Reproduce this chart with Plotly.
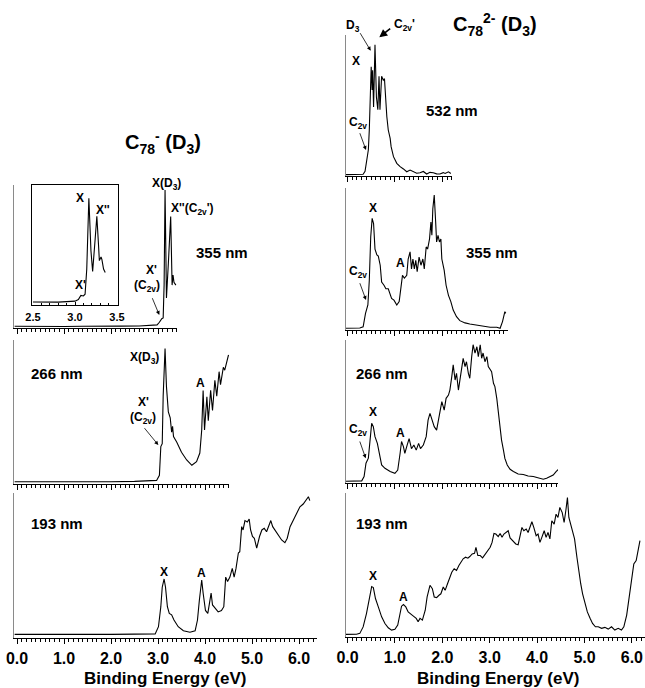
import plotly.graph_objects as go

W, H = 645, 688
FONT = "Liberation Sans, Arial, Helvetica, sans-serif"

# ---------------- data (binding energy eV, intensity % of panel height) ----------------
L355_x = [-0.05, 0.3, 0.6, 1.0, 1.4, 1.8, 2.2, 2.6, 2.85, 2.98, 3.03, 3.06, 3.08, 3.11, 3.13, 3.15, 3.18, 3.22, 3.27, 3.30, 3.32, 3.34, 3.38]
L355_y = [1.2, 1.0, 1.3, 1.1, 1.2, 1.0, 1.3, 1.4, 1.8, 2.2, 4.0, 6.0, 6.5, 7.0, 30.0, 96.5, 21.0, 45.0, 78.0, 30.0, 37.0, 32.0, 30.0]

INS_x = [2.50, 2.60, 2.70, 2.80, 2.90, 3.00, 3.04, 3.07, 3.10, 3.12, 3.14, 3.165, 3.19, 3.21, 3.24, 3.26, 3.28, 3.29, 3.31, 3.32, 3.34, 3.36]
INS_y = [2.5, 2.3, 2.6, 2.4, 2.8, 3.2, 4.5, 8.0, 7.5, 9.0, 30.0, 89.0, 45.0, 28.0, 55.0, 74.0, 50.0, 37.0, 40.0, 38.0, 30.0, 27.0]

L266_x = [-0.05, 0.5, 1.0, 1.5, 2.0, 2.5, 2.8, 2.97, 3.03, 3.06, 3.09, 3.11, 3.15, 3.18, 3.22, 3.26, 3.29, 3.31, 3.33, 3.40, 3.50, 3.61, 3.72, 3.82, 3.89, 3.93, 3.96, 3.99, 4.04, 4.07, 4.12, 4.16, 4.21, 4.25, 4.30, 4.33, 4.39, 4.42, 4.50]
L266_y = [1.6, 1.5, 1.7, 1.5, 1.6, 1.8, 2.0, 2.5, 6.0, 26.0, 28.0, 61.0, 94.0, 67.6, 50.0, 46.0, 36.0, 40.0, 33.0, 29.0, 22.0, 16.7, 13.0, 15.5, 21.5, 37.5, 65.0, 37.5, 60.6, 44.0, 65.0, 51.0, 72.0, 61.0, 78.0, 69.0, 81.0, 79.0, 89.6]

L193_x = [-0.05, 0.5, 1.0, 1.5, 2.0, 2.5, 2.94, 3.01, 3.06, 3.09, 3.13, 3.16, 3.20, 3.24, 3.29, 3.34, 3.43, 3.54, 3.68, 3.79, 3.84, 3.88, 3.93, 3.96, 4.01, 4.06, 4.09, 4.13, 4.16, 4.21, 4.28, 4.35, 4.40, 4.44, 4.48, 4.53, 4.58, 4.62, 4.66, 4.71, 4.74, 4.78, 4.81, 4.85, 4.90, 4.94, 4.97, 5.01, 5.05, 5.10, 5.16, 5.21, 5.26, 5.31, 5.37, 5.40, 5.44, 5.49, 5.56, 5.63, 5.70, 5.75, 5.81, 5.88, 5.95, 6.02, 6.09, 6.16, 6.20, 6.23]
L193_y = [2.5, 2.4, 2.6, 2.5, 2.5, 2.7, 2.8, 7.8, 21.6, 35.0, 40.7, 35.0, 21.6, 17.0, 16.0, 12.4, 7.8, 5.0, 4.0, 5.0, 12.4, 26.0, 40.0, 31.0, 19.0, 17.0, 24.0, 31.0, 22.8, 20.5, 18.0, 19.0, 21.6, 42.0, 39.0, 42.0, 48.0, 42.0, 48.0, 58.6, 59.5, 76.8, 74.5, 81.0, 80.0, 82.0, 74.5, 70.0, 68.8, 61.9, 70.0, 74.5, 75.6, 73.3, 78.0, 81.0, 76.8, 74.5, 71.0, 67.6, 65.7, 68.8, 76.8, 81.4, 87.0, 90.5, 92.4, 96.0, 97.4, 94.7]

R532_x = [-0.04, 0.10, 0.20, 0.33, 0.37, 0.405, 0.44, 0.46, 0.475, 0.50, 0.52, 0.53, 0.55, 0.58, 0.61, 0.64, 0.665, 0.685, 0.72, 0.755, 0.78, 0.80, 0.83, 0.86, 0.90, 0.92, 0.97, 1.04, 1.11, 1.18, 1.25, 1.32, 1.39, 1.46, 1.53, 1.60, 1.67, 1.74, 1.81, 1.88, 1.95, 2.02, 2.06, 2.13, 2.18]
R532_y = [1.0, 1.0, 1.1, 1.2, 3.3, 11.5, 18.6, 32.7, 56.0, 77.5, 61.0, 75.0, 49.0, 93.0, 56.0, 47.0, 70.7, 47.0, 70.7, 68.0, 69.0, 56.0, 42.0, 32.6, 26.7, 20.8, 13.7, 9.0, 6.6, 5.0, 3.0, 4.2, 3.0, 2.0, 2.3, 3.2, 1.4, 2.6, 2.3, 1.5, 1.4, 2.4, 1.8, 3.0, 1.8]

R355_x = [-0.04, 0.10, 0.20, 0.26, 0.33, 0.38, 0.43, 0.46, 0.49, 0.52, 0.55, 0.58, 0.62, 0.65, 0.69, 0.72, 0.77, 0.81, 0.86, 0.90, 0.93, 0.98, 1.04, 1.09, 1.13, 1.16, 1.20, 1.25, 1.28, 1.32, 1.35, 1.38, 1.41, 1.44, 1.47, 1.51, 1.55, 1.59, 1.62, 1.66, 1.69, 1.73, 1.76, 1.78, 1.80, 1.83, 1.86, 1.88, 1.91, 1.94, 1.97, 1.99, 2.04, 2.08, 2.13, 2.18, 2.23, 2.30, 2.37, 2.48, 2.58, 2.73, 2.86, 3.01, 3.15, 3.22, 3.27, 3.32, 3.34]
R355_y = [1.2, 1.2, 1.3, 1.4, 2.3, 11.7, 17.6, 35.0, 65.7, 78.6, 75.0, 57.0, 52.8, 52.0, 45.6, 33.8, 31.5, 29.0, 29.0, 24.6, 22.3, 21.0, 17.6, 20.0, 29.0, 38.5, 36.6, 38.5, 50.0, 55.0, 43.0, 50.0, 43.0, 49.0, 41.0, 51.4, 45.6, 50.0, 43.0, 58.5, 57.0, 64.0, 76.0, 66.7, 85.4, 95.0, 76.0, 62.0, 66.7, 62.0, 64.0, 50.0, 42.0, 31.5, 24.4, 20.0, 14.0, 9.4, 6.6, 5.0, 4.2, 3.5, 2.8, 1.9, 1.9, 1.2, 5.9, 12.9, 11.7]

R266_x = [-0.04, 0.10, 0.20, 0.30, 0.35, 0.39, 0.44, 0.475, 0.51, 0.545, 0.58, 0.63, 0.67, 0.72, 0.79, 0.90, 1.00, 1.06, 1.11, 1.14, 1.18, 1.21, 1.26, 1.30, 1.35, 1.40, 1.45, 1.50, 1.54, 1.60, 1.66, 1.70, 1.74, 1.79, 1.83, 1.88, 1.92, 1.95, 1.99, 2.04, 2.08, 2.13, 2.16, 2.20, 2.23, 2.27, 2.30, 2.34, 2.37, 2.41, 2.44, 2.48, 2.51, 2.55, 2.58, 2.62, 2.65, 2.69, 2.73, 2.76, 2.80, 2.83, 2.86, 2.90, 2.94, 2.97, 3.01, 3.04, 3.08, 3.11, 3.15, 3.18, 3.22, 3.25, 3.29, 3.32, 3.37, 3.43, 3.50, 3.60, 3.71, 3.81, 3.92, 4.03, 4.13, 4.20, 4.27, 4.34, 4.40, 4.45]
R266_y = [1.2, 1.2, 1.3, 1.5, 4.5, 13.8, 17.4, 32.4, 41.7, 39.4, 32.4, 27.7, 20.8, 12.6, 10.3, 8.0, 6.8, 9.0, 20.8, 29.0, 25.4, 20.8, 26.6, 31.0, 24.0, 26.6, 23.0, 27.7, 24.0, 26.6, 32.4, 44.0, 48.7, 42.9, 39.4, 37.0, 44.0, 51.0, 56.9, 51.0, 59.2, 61.5, 65.0, 74.4, 82.6, 72.0, 76.7, 65.0, 72.0, 79.0, 87.2, 81.4, 84.8, 76.7, 73.2, 88.4, 96.7, 90.9, 95.3, 88.4, 96.7, 87.2, 90.9, 84.8, 88.4, 81.4, 79.0, 77.9, 69.7, 67.4, 59.0, 48.7, 39.4, 30.0, 23.0, 17.2, 12.6, 9.6, 8.0, 6.3, 6.0, 4.9, 4.5, 3.7, 2.6, 3.3, 4.5, 5.6, 8.0, 9.6]

R193_x = [-0.04, 0.10, 0.19, 0.26, 0.33, 0.40, 0.46, 0.51, 0.545, 0.59, 0.65, 0.72, 0.79, 0.86, 0.93, 1.00, 1.06, 1.11, 1.14, 1.18, 1.23, 1.28, 1.33, 1.39, 1.45, 1.49, 1.53, 1.58, 1.64, 1.68, 1.74, 1.79, 1.83, 1.88, 1.93, 1.97, 2.02, 2.06, 2.11, 2.15, 2.20, 2.25, 2.30, 2.35, 2.39, 2.44, 2.49, 2.54, 2.58, 2.63, 2.68, 2.71, 2.75, 2.80, 2.85, 2.90, 2.95, 3.01, 3.05, 3.09, 3.13, 3.18, 3.22, 3.26, 3.30, 3.34, 3.39, 3.43, 3.47, 3.51, 3.55, 3.60, 3.64, 3.68, 3.72, 3.77, 3.81, 3.85, 3.89, 3.93, 3.98, 4.02, 4.06, 4.10, 4.15, 4.19, 4.23, 4.27, 4.31, 4.36, 4.40, 4.44, 4.48, 4.53, 4.57, 4.61, 4.64, 4.67, 4.71, 4.75, 4.79, 4.84, 4.88, 4.92, 4.96, 5.01, 5.06, 5.12, 5.17, 5.23, 5.29, 5.36, 5.43, 5.50, 5.57, 5.64, 5.71, 5.78, 5.83, 5.89, 5.95, 6.00, 6.04, 6.09, 6.14, 6.17]
R193_y = [1.8, 1.8, 1.9, 2.5, 7.0, 16.3, 27.8, 35.0, 34.3, 26.7, 20.9, 14.0, 9.4, 6.4, 4.8, 5.3, 8.3, 16.3, 21.4, 22.5, 20.9, 17.4, 16.3, 14.5, 12.9, 10.6, 12.9, 11.7, 18.6, 27.8, 35.9, 33.6, 27.8, 27.4, 29.0, 30.0, 34.7, 32.4, 37.0, 40.5, 45.0, 47.4, 46.2, 49.7, 51.9, 54.3, 55.4, 54.7, 55.9, 57.7, 58.1, 62.3, 56.6, 56.6, 55.0, 57.2, 58.8, 62.3, 65.7, 71.9, 71.5, 69.7, 71.9, 69.2, 71.5, 72.6, 73.8, 68.8, 67.4, 65.7, 64.6, 64.1, 70.3, 76.1, 73.8, 75.0, 72.6, 76.1, 80.0, 76.1, 70.3, 71.5, 65.7, 69.2, 73.8, 69.2, 72.6, 68.1, 80.7, 78.4, 85.3, 83.0, 90.0, 86.4, 79.5, 88.7, 96.8, 83.0, 78.4, 73.8, 68.1, 55.4, 45.0, 37.0, 30.0, 24.3, 17.4, 12.9, 9.4, 7.1, 7.1, 6.0, 6.7, 5.5, 7.1, 4.8, 6.0, 4.8, 7.1, 15.2, 29.0, 44.0, 50.8, 53.1, 62.3, 66.9]

TICK_VALS = [0, 1, 2, 3, 4, 5, 6]
TICK_LABELS = ["0.0", "1.0", "2.0", "3.0", "4.0", "5.0", "6.0"]
INSET_VALS = [2.5, 3.0, 3.5]
INSET_TICKS = ["2.5", "3.0", "3.5"]

# ---------------- geometry helpers ----------------
def px(x):
    return x / W

def py(y):
    return 1 - y / H

L0, LS = 17.0, 47.0      # left column: pixel of 0 eV, pixels per eV
R0, RS = 347.5, 47.4     # right column

# panels: (name, x, y, column, left_px, right_px, top_px, bottom_px, show labels)
panels = [
    ("L355", L355_x, L355_y, "L", 14, 177, 185, 328, False),
    ("L266", L266_x, L266_y, "L", 14, 229, 340, 484, False),
    ("L193", L193_x, L193_y, "L", 14, 317, 493, 638, True),
    ("R532", R532_x, R532_y, "R", 345.7, 452, 35, 176, False),
    ("R355", R355_x, R355_y, "R", 345.7, 508, 188, 330, False),
    ("R266", R266_x, R266_y, "R", 345.7, 558, 340, 483, False),
    ("R193", R193_x, R193_y, "R", 345.7, 645, 493, 637, True),
]

fig = go.Figure()
layout = dict(
    width=W, height=H, margin=dict(l=0, r=0, t=0, b=0, pad=0, autoexpand=False),
    paper_bgcolor="white", plot_bgcolor="rgba(0,0,0,0)",
    showlegend=False, font=dict(family=FONT, color="black"),
)

for i, (name, xs, ys, col, lpx, rpx, tpx, bpx, lab) in enumerate(panels, start=1):
    z0, sc = (L0, LS) if col == "L" else (R0, RS)
    xr = [(lpx - z0) / sc, (rpx - z0) / sc]
    sfx = "" if i == 1 else str(i)
    fig.add_trace(go.Scatter(x=xs, y=ys, mode="lines", line=dict(color="black", width=1.1),
                             xaxis="x" + sfx, yaxis="y" + sfx, hoverinfo="skip"))
    layout["xaxis" + sfx] = dict(
        domain=[px(lpx), px(rpx)], range=xr, anchor="y" + sfx, automargin=False,
        showline=True, linecolor="black", linewidth=1, showgrid=False, zeroline=False,
        ticks="outside", ticklen=5, tickwidth=1, tickcolor="black",
        tickvals=TICK_VALS, ticktext=TICK_LABELS,
        minor=dict(ticks="outside", ticklen=3, dtick=0.1, tick0=0, tickcolor="black", tickwidth=1, showgrid=False),
        showticklabels=lab, ticklabelstandoff=1,
        tickfont=dict(family=FONT, size=16, weight="bold", color="black"),
    )
    layout["yaxis" + sfx] = dict(
        domain=[py(bpx), py(tpx)], range=[0, 100], anchor="x" + sfx, automargin=False,
        showline=True, linecolor="#8a8a8a", linewidth=1, showgrid=False, zeroline=False,
        ticks="", showticklabels=False,
    )

# inset in the left 355 nm panel
k = len(panels) + 1
fig.add_trace(go.Scatter(x=INS_x, y=INS_y, mode="lines", line=dict(color="black", width=1.1),
                         xaxis="x%d" % k, yaxis="y%d" % k, hoverinfo="skip"))
ix0, ix1 = 32, 118
isc = 84.0
layout["xaxis%d" % k] = dict(
    domain=[px(ix0), px(ix1)], range=[2.5 + (ix0 - 33) / isc, 2.5 + (ix1 - 33) / isc], anchor="y%d" % k,
    automargin=False,
    showline=True, mirror=True, linecolor="black", linewidth=1, showgrid=False, zeroline=False,
    ticks="inside", ticklen=3, tickcolor="black",
    tickvals=INSET_VALS, ticktext=INSET_TICKS,
    minor=dict(ticks="inside", ticklen=2, dtick=0.1, tick0=0, tickcolor="black", showgrid=False),
    ticklabelstandoff=2,
    tickfont=dict(family=FONT, size=11, weight="bold", color="black"),
)
layout["yaxis%d" % k] = dict(
    domain=[py(305), py(185)], range=[0, 100], anchor="x%d" % k, automargin=False,
    showline=True, mirror=True, linecolor="black", linewidth=1, showgrid=False, zeroline=False,
    ticks="", showticklabels=False,
)

fig.update_layout(**layout)

# ---------------- text annotations ----------------
def txt(x, y, s, size=12):
    fig.add_annotation(x=px(x), y=py(y), xref="paper", yref="paper", text=s, showarrow=False,
                       xanchor="center", yanchor="middle",
                       font=dict(family=FONT, size=size, weight="bold", color="black"))

def arrow(tx, ty, hx, hy, width=0.8, size=1.0):
    fig.add_annotation(x=px(hx), y=py(hy), xref="paper", yref="paper", text="",
                       showarrow=True, ax=tx - hx, ay=ty - hy, axref="pixel", ayref="pixel",
                       arrowhead=2, arrowsize=size, arrowwidth=width, arrowcolor="black")

# left column
txt(163, 142, "C<sub>78</sub><sup>-</sup> (D<sub>3</sub>)", 20)
txt(166, 184, "X(D<sub>3</sub>)")
txt(192, 209, "X''(C<sub>2v</sub>')")
txt(151, 270, "X'")
txt(147, 286, "(C<sub>2v</sub>)")
arrow(151.7, 296.7, 159.3, 315)
txt(222, 252, "355 nm", 15)
txt(80, 198, "X")
txt(103, 210, "X''")
txt(80, 285, "X'")

txt(144, 358, "X(D<sub>3</sub>)")
txt(200, 383, "A")
txt(143, 402, "X'")
txt(143, 418, "(C<sub>2v</sub>)")
arrow(143.3, 426.7, 158.3, 445)
txt(57, 373, "266 nm", 15)

txt(164, 572, "X")
txt(201, 573, "A")
txt(57, 523, "193 nm", 15)
txt(165, 678, "Binding Energy (eV)", 17)

# right column
txt(495, 25, "C<sub>78</sub><sup>2-</sup> (D<sub>3</sub>)", 20)
txt(353, 26, "D<sub>3</sub>")
txt(404, 25, "C<sub>2v</sub>'")
arrow(359.3, 31.7, 370.7, 50.7)
arrow(391.7, 27.3, 379.3, 37.3, width=1.6, size=1.0)
txt(356, 61, "X")
txt(358, 123, "C<sub>2v</sub>")
arrow(359.3, 131.7, 366, 150)
txt(452, 110, "532 nm", 15)

txt(373, 208, "X")
txt(400, 263, "A")
txt(358, 272, "C<sub>2v</sub>")
arrow(359.3, 281.7, 366, 300)
txt(492, 252, "355 nm", 15)

txt(373, 412, "X")
txt(358, 430, "C<sub>2v</sub>")
arrow(359.3, 440, 365.7, 458.3)
txt(401, 433, "A")
txt(382, 373, "266 nm", 15)

txt(373, 576, "X")
txt(403, 597, "A")
txt(382, 523, "193 nm", 15)
txt(498, 678, "Binding Energy (eV)", 17)

fig.write_html("out.html", config={"responsive": False, "displayModeBar": False},
               post_script="document.body.style.margin='0';document.body.style.overflow='hidden';")
